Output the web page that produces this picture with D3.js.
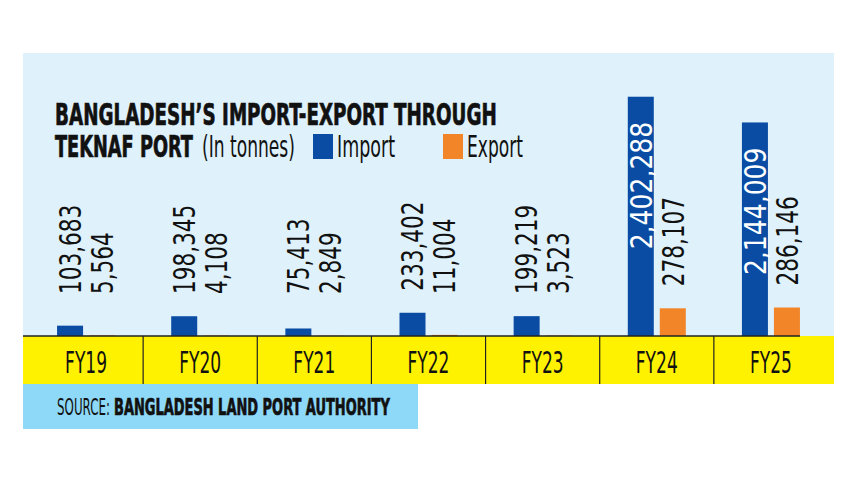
<!DOCTYPE html>
<html>
<head>
<meta charset="utf-8">
<script src="https://cdn.jsdelivr.net/npm/d3@7"></script>
<style>
  body { margin: 0; background: #fff; }
  svg { display: block; }
  text { font-family: "Liberation Sans Narrow", "DejaVu Sans Condensed", "Roboto", sans-serif; }
  .bold { font-weight: bold; stroke: #111; stroke-width: 0.7px; }
</style>
</head>
<body>
<script>
//size of the page
var w = 857;
var h = 482;

//data (tonnes)
var years = ["FY19", "FY20", "FY21", "FY22", "FY23", "FY24", "FY25"];
var importTonnes = [103683, 198345, 75413, 233402, 199219, 2402288, 2144009];
var exportTonnes = [5564, 4108, 2849, 11004, 3523, 278107, 286146];
var series = ["Import", "Export"];
var colors = { Import: "#0a4ca3", Export: "#f28527" };

//frame
var left = 23, right = 834;
var top0 = 53, base = 336, bandBottom = 384;

var svg = d3.select("body").append("svg")
    .attr("width", w)
    .attr("height", h);

//squeeze text horizontally to a given width, keeping its height
function fit(sel, len) {
    sel.each(function() {
        var t = d3.select(this);
        var tx = +t.attr("x") || 0, ty = +t.attr("y") || 0;
        var n = this.getComputedTextLength();
        t.attr("x", 0).attr("y", 0)
            .attr("transform", "translate(" + tx + "," + ty + ") scale(" + (len / n) + ",1)");
    });
}

//background panel
svg.append("rect")
    .attr("x", left).attr("y", top0)
    .attr("width", right - left).attr("height", base - top0)
    .attr("fill", "#dff1fb");

//scales
var x0 = d3.scaleBand()
    .domain(years)
    .range([29, 828]);

var x1 = d3.scaleBand()
    .domain(series)
    .range([-29, 29])
    .paddingInner(0.1875);

var y = d3.scaleLinear()
    .domain([0, 2500000])
    .range([base, 87]);

var rows = years.map(function(yr, i) {
    return { year: yr, values: [
        { key: "Import", value: importTonnes[i] },
        { key: "Export", value: exportTonnes[i] }
    ]};
});

//bars
var groups = svg.selectAll("g.year")
    .data(rows)
    .enter().append("g")
    .attr("class", "year")
    .attr("transform", function(d) { return "translate(" + (x0(d.year) + x0.bandwidth() / 2) + ",0)"; });

groups.selectAll("rect")
    .data(function(d) { return d.values; })
    .enter().append("rect")
    .attr("x", function(d) { return x1(d.key); })
    .attr("y", function(d) { return y(d.value); })
    .attr("width", x1.bandwidth())
    .attr("height", function(d) { return base - y(d.value); })
    .attr("fill", function(d) { return colors[d.key]; });

//value labels (inside the bar when it is tall enough)
var fmt = d3.format(",");
groups.selectAll("text.val")
    .data(function(d) { return d.values; })
    .enter().append("text")
    .attr("class", "val")
    .each(function(d) {
        var inside = base - y(d.value) > 180;
        var cx = x1(d.key) + x1.bandwidth() / 2;
        var yy = inside ? y(d.value) + 25 : Math.min(y(d.value) - 22, 294);
        d3.select(this)
            .attr("transform", "translate(" + cx + "," + yy + ") rotate(-90) scale(" + (inside ? 0.93 : 0.8) + ",1)")
            .attr("dy", "0.36em")
            .attr("text-anchor", inside ? "end" : "start")
            .attr("fill", inside ? "#fff" : "#111")
            .style("font-size", "30px")
            .text(fmt(d.value));
    });

//yellow category band
svg.append("rect")
    .attr("x", left).attr("y", base)
    .attr("width", right - left).attr("height", bandBottom - base)
    .attr("fill", "#fff200");

var xAxis = d3.axisBottom(x0).tickSize(0).tickPadding(0);
var axisG = svg.append("g")
    .attr("transform", "translate(0," + base + ")")
    .call(xAxis);
axisG.select(".domain").remove();
axisG.selectAll("text")
    .attr("y", 37)
    .attr("dy", null)
    .attr("fill", "#111")
    .style("font-size", "31px")
    .style("font-family", null)
    .call(fit, 42);

//dividers
svg.selectAll("line.div")
    .data(years.slice(1))
    .enter().append("line")
    .attr("x1", function(d) { return x0(d); })
    .attr("x2", function(d) { return x0(d); })
    .attr("y1", base).attr("y2", bandBottom)
    .attr("stroke", "#222").attr("stroke-width", 1.2);

svg.append("line")
    .attr("x1", left).attr("x2", 800)
    .attr("y1", base).attr("y2", base)
    .attr("stroke", "#222").attr("stroke-width", 1.5);

//title
svg.append("text").attr("class", "bold")
    .attr("x", 55).attr("y", 125)
    .style("font-size", "30px").attr("fill", "#111")
    .text("BANGLADESH\u2019S IMPORT-EXPORT THROUGH")
    .call(fit, 442);

svg.append("text").attr("class", "bold")
    .attr("x", 55).attr("y", 157)
    .style("font-size", "30px").attr("fill", "#111")
    .text("TEKNAF PORT")
    .call(fit, 138);

svg.append("text")
    .attr("x", 202).attr("y", 157)
    .style("font-size", "30px").attr("fill", "#111")
    .text("(In tonnes)")
    .call(fit, 93);

//legend
var legend = [
    { key: "Import", bx: 313, tx: 337, len: 58 },
    { key: "Export", bx: 443, tx: 467, len: 56 }
];
legend.forEach(function(l) {
    svg.append("rect")
        .attr("x", l.bx).attr("y", 134)
        .attr("width", 20).attr("height", 25)
        .attr("fill", colors[l.key]);
    svg.append("text")
        .attr("x", l.tx).attr("y", 157)
        .style("font-size", "30px").attr("fill", "#111")
        .text(l.key)
        .call(fit, l.len);
});

//source box
svg.append("rect")
    .attr("x", left).attr("y", bandBottom)
    .attr("width", 418 - left).attr("height", 429 - bandBottom)
    .attr("fill", "#8ed8f8");

svg.append("text")
    .attr("x", 57).attr("y", 415)
    .style("font-size", "23px").attr("fill", "#111")
    .text("SOURCE:")
    .call(fit, 53);

svg.append("text").attr("class", "bold")
    .attr("x", 114).attr("y", 415)
    .style("font-size", "23px").attr("fill", "#111")
    .text("BANGLADESH LAND PORT AUTHORITY")
    .call(fit, 276);
</script>
</body>
</html>
